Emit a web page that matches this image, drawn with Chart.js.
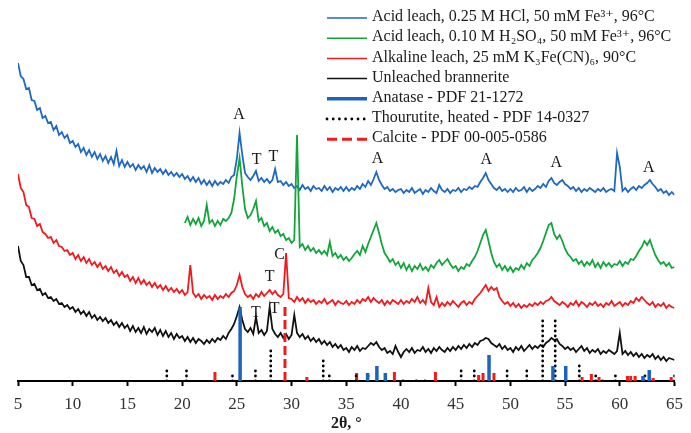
<!DOCTYPE html>
<html>
<head>
<meta charset="utf-8">
<script src="https://cdn.jsdelivr.net/npm/chart.js@4.4.0/dist/chart.umd.min.js"></script>
<style>
  html, body { margin: 0; padding: 0; background: #fff; }
  #wrap { width: 691px; height: 433px; }
</style>
</head>
<body>
<div id="wrap"><canvas id="xrd" width="691" height="433"></canvas></div>
<script>
// scan grid (2theta, degrees)
const startAngle = 5;
const greenStart = 20.25;
const stepAngle = 0.25;

const seriesNames = [
    'Acid leach, 0.25 M HCl, 50 mM Fe³⁺, 96°C',
    'Acid leach, 0.10 M H₂SO₄, 50 mM Fe³⁺, 96°C',
    'Alkaline leach, 25 mM K₃Fe(CN)₆, 90°C',
    'Unleached brannerite',
    'Anatase - PDF 21-1272',
    'Thourutite, heated - PDF 14-0327',
    'Calcite - PDF 00-005-0586'
];

// intensities (offset, a.u.), one value per 0.25 deg
const hclLeach = [
    318,305,302,292,293,281,280,271,273,263,265,258,259,251,255,246,249,243,246,238,
    240,234,237,229,233,226,231,224,229,222,227,220,225,218,224,217,230,215,221,214,
    219,214,217,211,216,212,215,209,216,208,213,209,212,207,211,206,209,205,208,204,
    207,202,205,200,204,199,203,197,201,196,200,195,200,196,199,197,201,198,204,206,
    222,248,226,208,204,201,205,210,200,203,199,202,198,201,212,199,200,196,199,195,
    197,193,195,191,196,192,194,190,195,192,193,190,195,191,194,189,193,191,194,190,
    194,190,193,191,195,192,197,194,200,196,202,209,201,196,192,194,190,192,189,191,
    192,188,191,189,193,188,190,192,187,191,189,193,190,188,196,191,189,192,188,191,
    190,193,189,192,191,194,192,195,194,199,203,208,201,197,193,191,194,190,192,189,
    192,189,193,190,191,194,189,193,190,192,195,193,197,194,200,203,198,196,199,201,
    197,195,192,194,190,193,189,192,190,193,191,189,192,190,193,189,191,192,190,228,
    214,190,193,189,192,194,191,195,193,196,198,201,197,194,190,192,188,190,186,189,
    186
];

const sulfuricLeach = [
    158,164,156,162,157,163,155,160,176,158,161,155,160,156,162,160,163,168,182,
    205,223,195,172,163,166,172,180,160,163,155,158,150,154,148,151,145,147,141,143,
    138,141,246,134,137,131,135,130,133,128,131,127,130,126,139,125,128,123,126,121,
    124,120,123,127,130,126,135,129,137,144,151,158,148,137,128,124,119,122,116,119,
    113,118,111,116,110,115,112,117,111,114,110,116,113,118,121,116,119,122,117,113,
    115,110,114,112,117,115,120,124,130,138,146,151,140,128,119,114,117,111,115,110,
    114,109,113,111,116,112,118,115,121,124,128,133,140,148,156,158,147,142,146,140,
    132,127,124,120,122,117,120,115,119,116,121,114,118,113,119,115,118,114,117,116,
    120,115,119,117,122,121,125,130,134,140,136,141,133,126,121,117,119,115,118,113,
    114
];

const alkalineLeach = [
    207,193,189,176,174,163,162,155,157,149,147,143,144,138,141,135,134,130,131,126,
    128,122,126,120,124,118,122,116,119,114,118,112,115,110,114,108,111,105,109,104,
    106,100,104,98,103,97,101,96,99,94,98,93,96,91,95,90,93,89,92,88,
    91,86,89,116,88,84,87,82,86,83,85,81,86,82,85,83,87,84,88,90,
    96,106,94,87,84,86,82,87,84,89,85,88,91,87,90,86,84,87,128,83,
    82,79,84,80,83,78,82,79,81,77,80,78,82,77,79,81,76,80,78,77,
    80,76,79,77,81,78,82,80,84,79,83,80,78,81,76,80,77,81,79,77,
    81,77,80,78,82,79,84,78,81,77,93,79,76,84,74,78,75,79,76,80,
    77,74,78,80,76,79,77,82,85,88,92,96,90,94,91,93,84,80,77,79,
    75,78,74,77,73,76,74,77,75,78,76,79,77,80,81,84,80,78,76,79,
    77,74,78,76,80,75,79,77,74,78,76,79,75,77,74,78,76,80,75,77,
    79,75,78,76,80,78,83,80,84,81,78,76,79,74,77,75,78,73,76,74,
    73
];

const unleached = [
    135,120,116,104,104,96,97,91,92,86,88,83,84,80,82,77,78,74,76,72,
    74,69,72,67,70,65,69,63,66,61,64,60,63,58,61,56,59,54,58,53,
    56,50,55,49,53,48,54,47,52,49,53,46,51,45,50,44,48,42,47,43,
    45,40,44,39,43,38,42,40,37,41,38,42,39,43,41,45,42,48,52,57,
    65,74,61,52,49,53,47,64,48,51,46,50,74,52,47,44,48,43,47,42,
    46,66,48,44,47,42,45,40,43,39,42,37,40,36,39,34,37,33,36,31,
    33,29,34,31,35,30,33,32,35,38,36,39,34,31,33,28,30,27,35,29,
    24,29,32,29,33,28,31,30,34,29,32,28,33,30,34,31,29,33,30,34,
    31,35,32,36,33,37,34,38,36,40,41,43,42,38,36,34,37,32,35,31,
    33,29,34,31,35,30,33,36,32,35,33,36,34,38,40,43,41,42,37,35,
    32,34,31,33,29,32,35,30,33,28,31,29,32,27,30,28,31,29,27,30,
    48,27,30,26,29,25,28,24,27,23,26,24,27,22,25,21,24,20,23,22,
    21
];

// reference patterns (stick positions and heights)
const anataseAngles = [25.3, 36.95, 37.8, 38.57, 48.05, 53.89, 55.06, 62.12, 62.69];
const anataseHeights = [74, 8, 15, 8, 26, 15, 15, 5, 11];

const thouAngles = [18.6, 20.4, 24.6, 26.7, 28.1, 32.9, 33.45, 35.9, 37.0, 40.2, 41.4, 42.2,
    45.5, 46.7, 49.7, 51.5, 52.95, 54.1, 56.3, 57.8, 58.4, 59.6, 62.3, 65.0];
const thouHeights = [12, 15, 9, 15, 34, 23, 8, 8, 8, 4, 4, 4,
    12, 12, 12, 12, 63, 63, 16, 8, 4, 8, 10, 10];

const calciteAngles = [23.0, 29.4, 31.4, 35.95, 39.4, 43.15, 47.1, 47.5, 48.5, 56.55, 57.4, 58.1,
    60.7, 61.0, 61.4, 63.05, 64.7];
const calciteHeights = [9, 76, 4, 8, 9, 9, 6, 8, 8, 4, 7, 4, 5, 5, 5, 3, 4];

// peak labels
const noteLabels = ['A', 'T', 'T', 'A', 'A', 'A', 'A', 'C', 'T', 'T', 'T'];
const noteAngles = [25.2, 26.8, 28.35, 37.85, 47.8, 54.2, 62.65, 28.9, 28.0, 26.75, 28.45];
const noteHeights = [266, 221, 224, 222, 221, 218, 213, 126, 104, 68, 72];

const xTicks = { min: 5, max: 65, step: 5 };

function scanPoints(values, start) {
    return values.map((v, i) => ({ x: start + i * stepAngle, y: v }));
}

function sticks(angles, heights) {
    const pts = [];
    angles.forEach((a, i) => {
        pts.push({ x: a, y: 0 }, { x: a, y: heights[i] }, { x: a, y: null });
    });
    return pts;
}

const serif = "'Liberation Serif', 'DejaVu Serif', serif";

const legendPlugin = {
    id: 'boxLegend',
    afterDraw(chart, args, opts) {
        const ctx = chart.ctx;
        ctx.save();
        ctx.font = opts.font;
        ctx.textBaseline = 'middle';
        ctx.textAlign = 'left';
        chart.data.datasets.forEach((ds, i) => {
            const y = opts.top + i * opts.gap;
            ctx.beginPath();
            ctx.strokeStyle = ds.borderColor;
            ctx.lineWidth = ds.legendWidth || ds.borderWidth;
            ctx.lineCap = ds.borderCapStyle || 'butt';
            ctx.setLineDash(ds.legendDash || ds.borderDash || []);
            ctx.moveTo(opts.lineStart, y + 1);
            ctx.lineTo(opts.lineEnd, y + 1);
            ctx.stroke();
            ctx.setLineDash([]);
            ctx.fillStyle = opts.color;
            ctx.fillText(ds.label, opts.textX, y);
        });
        ctx.restore();
    }
};

const notesPlugin = {
    id: 'peakNotes',
    afterDatasetsDraw(chart, args, opts) {
        const ctx = chart.ctx;
        const xs = chart.scales.x, ys = chart.scales.y;
        ctx.save();
        ctx.font = opts.font;
        ctx.fillStyle = opts.color;
        ctx.textAlign = 'center';
        ctx.textBaseline = 'middle';
        noteLabels.forEach((t, i) => {
            ctx.fillText(t, xs.getPixelForValue(noteAngles[i]), ys.getPixelForValue(noteHeights[i]));
        });
        ctx.restore();
    }
};

const ctx = document.getElementById('xrd').getContext('2d');
new Chart(ctx, {
    type: 'line',
    data: {
        datasets: [
            { label: seriesNames[0], data: scanPoints(hclLeach, startAngle), borderColor: '#1f68c1', borderWidth: 1.8, legendWidth: 1.5, order: 4 },
            { label: seriesNames[1], data: scanPoints(sulfuricLeach, greenStart), borderColor: '#13a43a', borderWidth: 1.8, legendWidth: 1.5, order: 3 },
            { label: seriesNames[2], data: scanPoints(alkalineLeach, startAngle), borderColor: '#f0191e', borderWidth: 1.8, legendWidth: 1.5, order: 2 },
            { label: seriesNames[3], data: scanPoints(unleached, startAngle), borderColor: '#111111', borderWidth: 1.8, legendWidth: 1.5, order: 1 },
            { label: seriesNames[4], data: sticks(anataseAngles, anataseHeights), borderColor: '#1b64b9', borderWidth: 3.5, order: 0 },
            { label: seriesNames[5], data: sticks(thouAngles, thouHeights), borderColor: '#000000', borderWidth: 2.8,
              borderDash: [0, 5], borderCapStyle: 'round', legendDash: [0, 6.2], order: 0 },
            { label: seriesNames[6], data: sticks(calciteAngles, calciteHeights), borderColor: '#ee1c1c', borderWidth: 3,
              borderDash: [9, 4], legendDash: [10, 5], order: 0 }
        ]
    },
    options: {
        responsive: false,
        animation: false,
        devicePixelRatio: 1,
        spanGaps: false,
        elements: { point: { radius: 0 }, line: { tension: 0 } },
        layout: { padding: { left: 18, right: 8, top: 0, bottom: 0 } },
        plugins: {
            legend: { display: false },
            tooltip: { enabled: false },
            boxLegend: { font: '16px ' + serif, color: '#1a1a1a', top: 17, gap: 20.2, lineStart: 327, lineEnd: 367, textX: 372 },
            peakNotes: { font: '16px ' + serif, color: '#1a1a1a' }
        },
        scales: {
            x: {
                type: 'linear',
                min: xTicks.min,
                max: xTicks.max,
                afterFit: (scale) => { scale.height = 52; },
                ticks: { stepSize: xTicks.step, color: '#333333', padding: 8, maxRotation: 0, autoSkip: false, font: { family: serif, size: 17 } },
                grid: { drawOnChartArea: false, tickLength: 5, tickWidth: 2, tickColor: '#000000' },
                border: { display: true, color: '#000000', width: 2 },
                title: { display: true, text: '2θ, °', color: '#1a1a1a', padding: 0, font: { family: serif, size: 16, weight: 'bold' } }
            },
            y: {
                display: false,
                min: 0,
                max: 381
            }
        }
    },
    plugins: [legendPlugin, notesPlugin]
});
</script>
</body>
</html>
